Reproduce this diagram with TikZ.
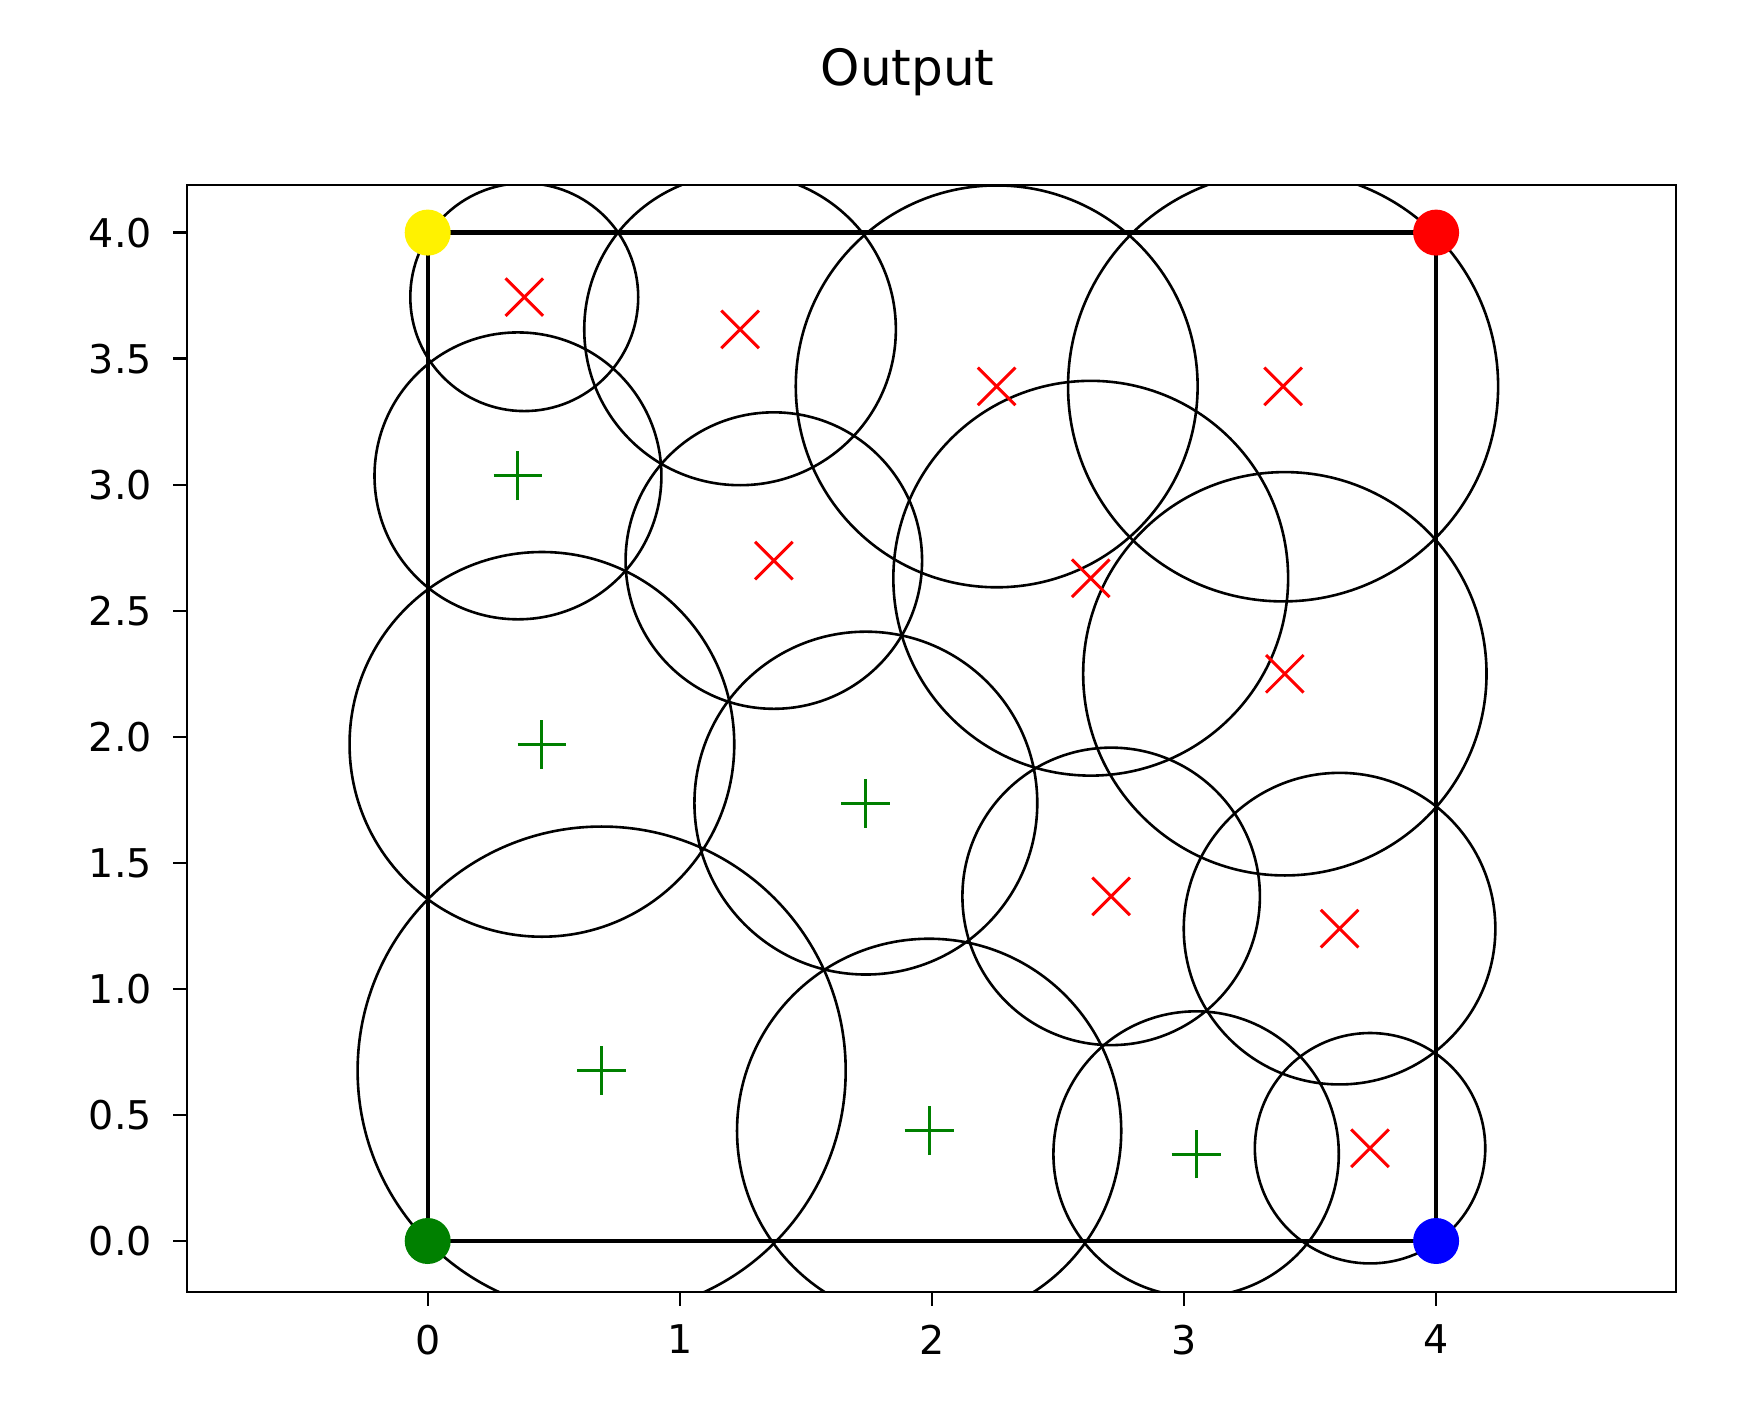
\documentclass[tikz,border=0pt]{standalone}
\usepackage{fontspec}
\setmainfont{DejaVu Sans}
\definecolor{mplgreen}{RGB}{0,128,0}
\begin{document}
\begin{tikzpicture}[x=0.5pt,y=-0.5pt,
  circ/.style={draw=black, line width=1.3pt},
  sqline/.style={draw=black, line width=2.2pt},
  frame/.style={draw=black, line width=1.15pt},
  tickmark/.style={draw=black, line width=1.15pt},
  redmark/.style={draw=red, line width=1.5pt},
  greenmark/.style={draw=mplgreen, line width=1.5pt},
  ticklabel/.style={inner sep=0pt, font=\fontsize{19.8}{24}\selectfont},
  dotmark/.style={circle, inner sep=0pt, minimum size=23pt}]
\useasboundingbox (0,0) rectangle (1740,1416);
\node[anchor=base, inner sep=0pt, font=\fontsize{25}{30}\selectfont] (title) at (907.5,86) {Output};
\begin{scope}[shift={(427.7,1241)}, x=126.05pt, y=126.05pt]
  \begin{scope}
    \clip (-0.9536,-0.2035) rectangle (4.9504,4.1888);
    % square
    \draw[sqline] (0,0) -- (4,0) -- (4,4) -- (0,4) -- cycle;
    % circles
    \foreach \cx/\cy/\r in {
      0.383/3.744/0.452, 1.239/3.616/0.618, 2.257/3.390/0.797,
      3.393/3.390/0.853, 1.373/2.699/0.588, 2.630/2.629/0.783,
      3.400/2.250/0.800, 2.711/1.367/0.590, 3.617/1.239/0.618,
      3.738/0.368/0.457,
      0.358/3.035/0.569, 0.453/1.970/0.763, 1.738/1.737/0.680,
      0.690/0.676/0.968, 1.989/0.437/0.762, 3.048/0.345/0.566}
      \draw[circ] (\cx,\cy) circle[radius=\r];
    % red x markers
    \foreach \cx/\cy in {
      0.383/3.744, 1.239/3.616, 2.257/3.390, 3.393/3.390, 1.373/2.699,
      2.630/2.629, 3.400/2.250, 2.711/1.367, 3.617/1.239, 3.738/0.368}
      \draw[redmark] ([shift={(-9.4pt,-9.4pt)}]\cx,\cy) -- ([shift={(9.4pt,9.4pt)}]\cx,\cy)
                     ([shift={(-9.4pt,9.4pt)}]\cx,\cy) -- ([shift={(9.4pt,-9.4pt)}]\cx,\cy);
    % green + markers
    \foreach \cx/\cy in {
      0.358/3.035, 0.453/1.970, 1.738/1.737, 0.690/0.676, 1.989/0.437, 3.048/0.345}
      \draw[greenmark] ([shift={(-12.2pt,0pt)}]\cx,\cy) -- ([shift={(12.2pt,0pt)}]\cx,\cy)
                       ([shift={(0pt,-12.2pt)}]\cx,\cy) -- ([shift={(0pt,12.2pt)}]\cx,\cy);
    % corner dots
    \node[dotmark, fill=yellow] (dotY) at (0,4) {};
    \node[dotmark, fill=red] (dotR) at (4,4) {};
    \node[dotmark, fill=blue] (dotB) at (4,0) {};
    \node[dotmark, fill=mplgreen] (dotG) at (0,0) {};
  \end{scope}
  % frame
  \draw[frame] (-0.9536,-0.2035) rectangle (4.9504,4.1888);
  % x ticks
  \foreach \t in {0,1,2,3,4} {
    \draw[tickmark] (\t,-0.2035) -- ++(0,-7pt);
    \node[ticklabel, anchor=north] (xl\t) at ([yshift=-16pt]\t,-0.2035) {\t};
  }
  % y ticks
  \foreach \t/\lab in {0/0.0,0.5/0.5,1/1.0,1.5/1.5,2/2.0,2.5/2.5,3/3.0,3.5/3.5,4/4.0} {
    \draw[tickmark] (-0.9536,\t) -- ++(-7pt,0);
    \node[ticklabel, anchor=east] (yl\lab) at ([xshift=-17.5pt]-0.9536,\t) {\lab};
  }
\end{scope}
\end{tikzpicture}
\end{document}
